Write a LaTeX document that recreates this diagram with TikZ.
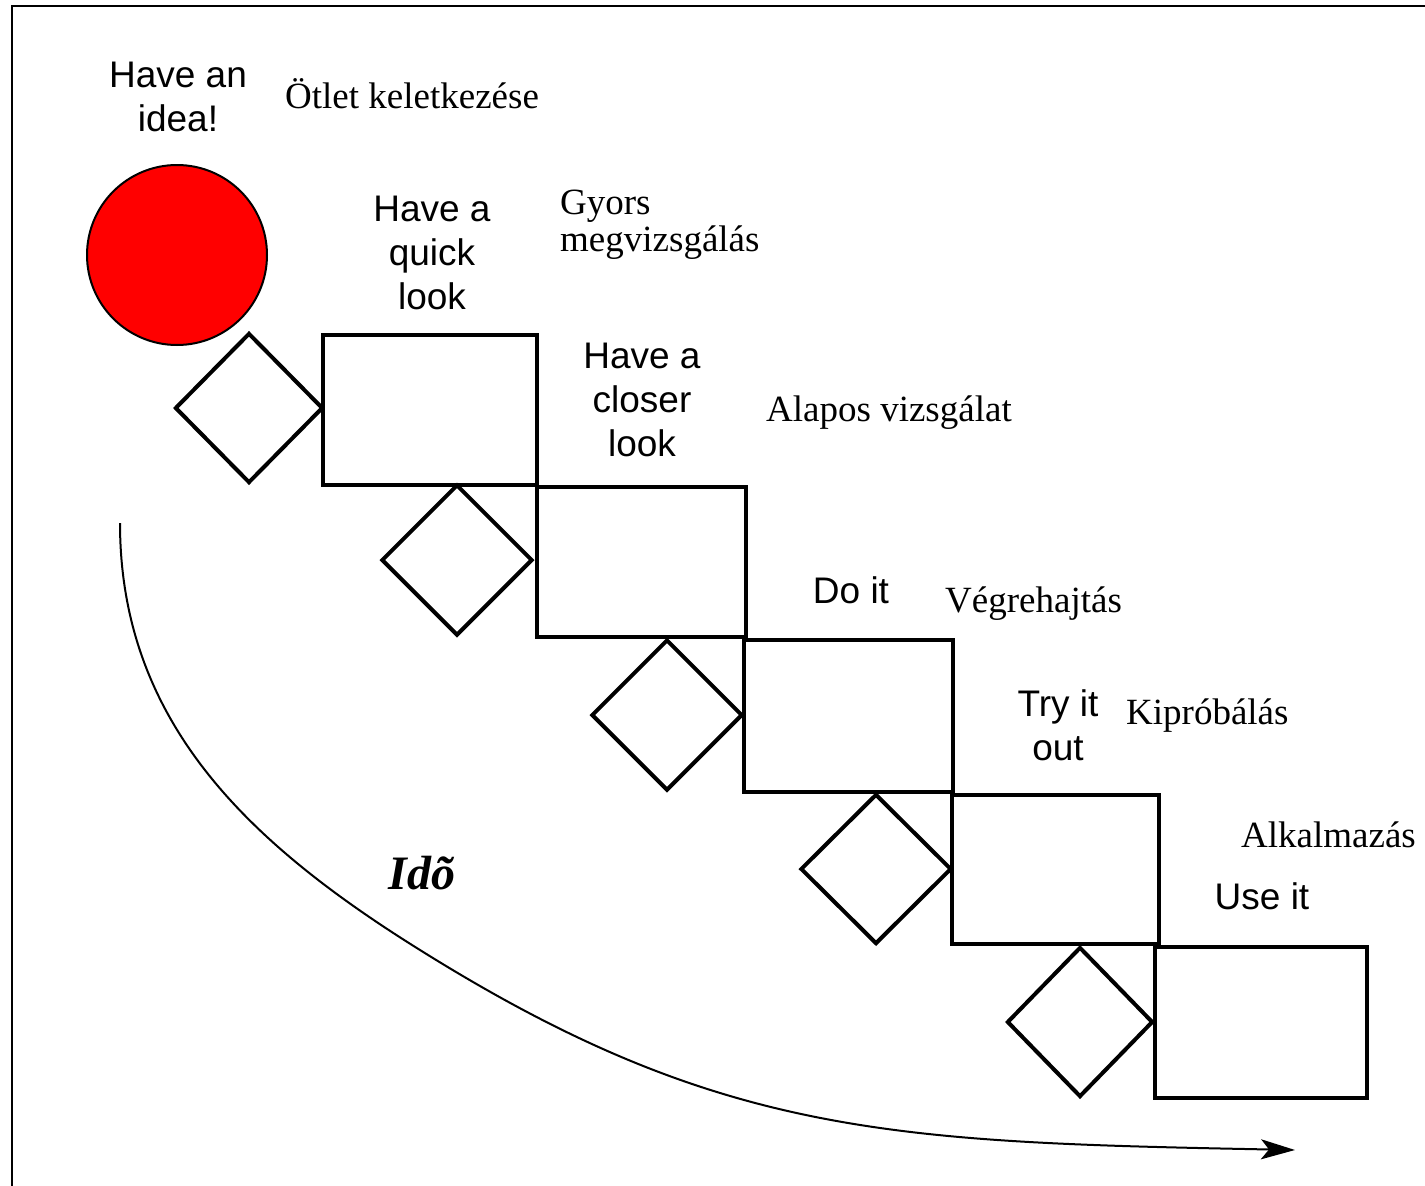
\documentclass[tikz,border=0pt]{standalone}
\usepackage{fontspec}
\setmainfont{Liberation Serif}
\newfontfamily\labsans{Liberation Sans}
\usetikzlibrary{shapes.geometric,arrows.meta}
\begin{document}
\begin{tikzpicture}[x=1pt,y=-1pt,
  stepbox/.style={draw,line width=4pt,rectangle,inner sep=0pt},
  gate/.style={draw,line width=4pt,diamond,inner sep=0pt},
  entxt/.style={font=\labsans\fontsize{37}{44}\selectfont,align=center,inner sep=0pt},
  hutxt/.style={font=\fontsize{37}{37}\selectfont,align=left,inner sep=0pt},
  frame/.style={line width=2.5pt}]
\useasboundingbox (0,0) rectangle (1425,1186);
% frame
\coordinate (fa) at (12,1186);
\coordinate (fb) at (12,6);
\coordinate (fc) at (1425,6);
\draw[frame] (fa) -- (fb) -- (fc);
% idea
\node[circle,draw,line width=2pt,fill=red,minimum size=180pt,inner sep=0pt] (idea) at (177,255) {};
% steps
\node[gate,minimum width=148pt,minimum height=150pt] (d1) at (249,408) {};
\node[stepbox,minimum width=214pt,minimum height=150pt] (r1) at (430,410) {};
\node[gate,minimum width=151pt,minimum height=151pt] (d2) at (457,560) {};
\node[stepbox,minimum width=209pt,minimum height=150pt] (r2) at (641.5,562) {};
\node[gate,minimum width=151pt,minimum height=151pt] (d3) at (667,715) {};
\node[stepbox,minimum width=209pt,minimum height=152pt] (r3) at (848.5,716) {};
\node[gate,minimum width=151pt,minimum height=150pt] (d4) at (876,869) {};
\node[stepbox,minimum width=207pt,minimum height=149pt] (r4) at (1055.5,869.5) {};
\node[gate,minimum width=146pt,minimum height=150pt] (d5) at (1080,1022) {};
\node[stepbox,minimum width=212pt,minimum height=151pt] (r5) at (1261,1022.5) {};
% English labels
\node[entxt] (t1) at (178,97) {Have an\\idea!};
\node[entxt] (t2) at (432,253) {Have a\\quick\\look};
\node[entxt] (t3) at (642,400) {Have a\\closer\\look};
\node[entxt] (t4) at (851,590) {Do it};
\node[entxt] (t5) at (1058,725) {Try it\\out};
\node[entxt] (t6) at (1262,896) {Use it};
% Hungarian labels
\node[hutxt,anchor=base west] (h1) at (285,108) {Ötlet keletkezése};
\node[hutxt,anchor=west] (h2) at (560,225) {Gyors\\megvizsgálás};
\node[hutxt,anchor=base west] (h3) at (766,421) {Alapos vizsgálat};
\node[hutxt,anchor=west] (h4) at (945,604) {Végrehajtás};
\node[hutxt,anchor=west] (h5) at (1126,716) {Kipróbálás};
\node[hutxt,anchor=west] (h6) at (1241,835) {Alkalmazás};
% time arrow
\node[font=\fontsize{48}{48}\selectfont\bfseries\itshape,inner sep=0pt] (ido) at (422,873) {Idõ};
\coordinate (ts) at (120,523);
\coordinate (tm) at (420,950);
\coordinate (te) at (1295,1150);
\draw[line width=2pt,-{Stealth[length=34pt,width=20pt,inset=8pt]}] (ts) .. controls (120,723) and (250,844) .. (tm) .. controls (720,1137.5) and (895,1142) .. (te);
\end{tikzpicture}
\end{document}
